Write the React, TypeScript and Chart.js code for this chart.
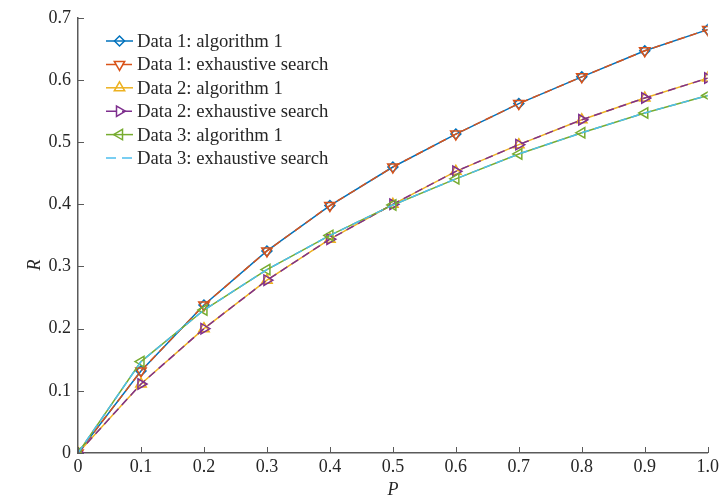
import React, { useEffect, useRef } from "react";
import { Chart, registerables } from "chart.js";
import { drawPoint } from "chart.js/helpers";

Chart.register(...registerables);

const xValues = [0, 0.1, 0.2, 0.3, 0.4, 0.5, 0.6, 0.7, 0.8, 0.9, 1.0];
const data1Algorithm = [0, 0.132, 0.238, 0.325, 0.398, 0.46, 0.513, 0.562, 0.605, 0.647, 0.681];
const data1Exhaustive = [0, 0.132, 0.238, 0.325, 0.398, 0.46, 0.513, 0.562, 0.605, 0.647, 0.681];
const data2Algorithm = [0, 0.111, 0.2, 0.278, 0.344, 0.4, 0.453, 0.496, 0.536, 0.571, 0.603];
const data2Exhaustive = [0, 0.111, 0.2, 0.278, 0.344, 0.4, 0.453, 0.496, 0.536, 0.571, 0.603];
const data3Algorithm = [0, 0.147, 0.23, 0.295, 0.35, 0.399, 0.441, 0.481, 0.515, 0.547, 0.575];
const data3Exhaustive = [0, 0.147, 0.23, 0.295, 0.35, 0.399, 0.441, 0.481, 0.515, 0.547, 0.575];
const seriesLabels = [
  "Data 1: algorithm 1",
  "Data 1: exhaustive search",
  "Data 2: algorithm 1",
  "Data 2: exhaustive search",
  "Data 3: algorithm 1",
  "Data 3: exhaustive search",
];
const xAxisTitle = "P";
const yAxisTitle = "R";

const SERIF = "'Liberation Serif', 'Times New Roman', serif";
const AXIS_COLOR = "#5a5a5a";
const FONT_SIZE = 18;
const LEGEND_FONT_SIZE = 18.7;

const styles = [
  { color: "#0072BD", dash: [] as number[], point: "rectRot", rot: 0, radius: 5 },
  { color: "#D95319", dash: [8, 5], point: "triangle", rot: 180, radius: 6 },
  { color: "#EDB120", dash: [] as number[], point: "triangle", rot: 0, radius: 6 },
  { color: "#7E2F8E", dash: [8, 5], point: "triangle", rot: 90, radius: 6 },
  { color: "#77AC30", dash: [] as number[], point: "triangle", rot: 270, radius: 6 },
  { color: "#4DBEEE", dash: [8, 5], point: false as any, rot: 0, radius: 0 },
];

const decorPlugin = {
  id: "decor",
  afterDraw(chart: any) {
    const ctx = chart.ctx;
    const area = chart.chartArea;
    const xs = chart.scales.x;
    const ys = chart.scales.y;
    ctx.save();
    // inward ticks
    ctx.strokeStyle = AXIS_COLOR;
    ctx.lineWidth = 1;
    ctx.setLineDash([]);
    xs.ticks.forEach((t: any) => {
      const px = Math.round(xs.getPixelForValue(t.value)) + 0.5;
      ctx.beginPath();
      ctx.moveTo(px, area.bottom);
      ctx.lineTo(px, area.bottom - 6);
      ctx.stroke();
    });
    ys.ticks.forEach((t: any) => {
      const py = Math.round(ys.getPixelForValue(t.value)) + 0.5;
      ctx.beginPath();
      ctx.moveTo(area.left, py);
      ctx.lineTo(area.left + 6, py);
      ctx.stroke();
    });
    // axis titles
    ctx.fillStyle = "#262626";
    ctx.font = `italic ${FONT_SIZE}px ${SERIF}`;
    ctx.textAlign = "center";
    ctx.textBaseline = "middle";
    ctx.fillText(xAxisTitle, (area.left + area.right) / 2, 490);
    ctx.save();
    ctx.translate(35, 265);
    ctx.rotate(-Math.PI / 2);
    ctx.fillText(yAxisTitle, 0, 0);
    ctx.restore();
    // legend
    const lx0 = area.left + 28;
    const ly0 = 41;
    const rowH = 23.4;
    ctx.font = `${LEGEND_FONT_SIZE}px ${SERIF}`;
    ctx.textAlign = "left";
    chart.data.datasets.forEach((ds: any, i: number) => {
      const st = styles[i];
      const y = ly0 + i * rowH;
      ctx.strokeStyle = st.color;
      ctx.lineWidth = 1.5;
      ctx.setLineDash(st.dash.length ? [10, 6] : []);
      ctx.beginPath();
      ctx.moveTo(lx0, y);
      ctx.lineTo(lx0 + 27, y);
      ctx.stroke();
      ctx.setLineDash([]);
      if (st.point) {
        ctx.fillStyle = "rgba(0,0,0,0)";
        ctx.strokeStyle = st.color;
        drawPoint(ctx, { pointStyle: st.point, rotation: st.rot, radius: st.radius, borderWidth: 1.5 } as any, lx0 + 13.5, y);
      }
      ctx.fillStyle = "#262626";
      ctx.fillText(ds.label, lx0 + 31, y + 1);
    });
    ctx.restore();
  },
};

export default function App() {
  const canvasRef = useRef<HTMLCanvasElement | null>(null);

  useEffect(() => {
    document.body.style.margin = "0";
    const canvas = canvasRef.current;
    if (!canvas) return;
    const series = [data1Algorithm, data1Exhaustive, data2Algorithm, data2Exhaustive, data3Algorithm, data3Exhaustive];
    const chart = new Chart(canvas, {
      type: "line",
      data: {
        datasets: series.map((arr, i) => ({
          label: seriesLabels[i],
          data: xValues.map((x, j) => ({ x, y: arr[j] })),
          borderColor: styles[i].color,
          backgroundColor: "rgba(0,0,0,0)",
          borderWidth: 1.5,
          borderDash: styles[i].dash,
          pointStyle: styles[i].point,
          rotation: styles[i].rot,
          pointRadius: styles[i].radius,
          pointBorderWidth: 1.5,
          pointBorderColor: styles[i].color,
          pointBackgroundColor: "rgba(0,0,0,0)",
          fill: false,
          tension: 0,
          order: 5 - i,
        })),
      },
      options: {
        animation: false,
        responsive: false,
        maintainAspectRatio: false,
        layout: { padding: { top: 12, right: 14, left: 0, bottom: 0 } },
        plugins: { legend: { display: false }, tooltip: { enabled: false } },
        scales: {
          x: {
            type: "linear",
            min: 0,
            max: 1,
            ticks: {
              stepSize: 0.1,
              color: "#262626",
              font: { family: SERIF, size: FONT_SIZE },
              padding: 3,
              maxRotation: 0,
              callback: (v: any) => (Math.abs(Number(v)) < 1e-9 ? "0" : Number(v).toFixed(1)),
            },
            grid: { drawOnChartArea: false, drawTicks: false, color: AXIS_COLOR },
            border: { color: AXIS_COLOR, width: 1.5 },
            afterFit: (s: any) => {
              s.height = 47;
            },
          },
          y: {
            type: "linear",
            min: 0,
            max: 0.7,
            ticks: {
              stepSize: 0.1,
              color: "#262626",
              font: { family: SERIF, size: FONT_SIZE },
              padding: 7,
              callback: (v: any) => (Math.abs(Number(v)) < 1e-9 ? "0" : Number(v).toFixed(1)),
            },
            grid: { drawOnChartArea: false, drawTicks: false, color: AXIS_COLOR },
            border: { color: AXIS_COLOR, width: 1.5 },
            afterFit: (s: any) => {
              s.width = 78;
            },
          },
        },
      },
      plugins: [decorPlugin],
    });
    return () => chart.destroy();
  }, []);

  return (
    <div style={{ position: "absolute", left: 0, top: 0, width: 722, height: 500, background: "#fff" }}>
      <canvas ref={canvasRef} width={722} height={500} style={{ width: 722, height: 500 }} />
    </div>
  );
}
